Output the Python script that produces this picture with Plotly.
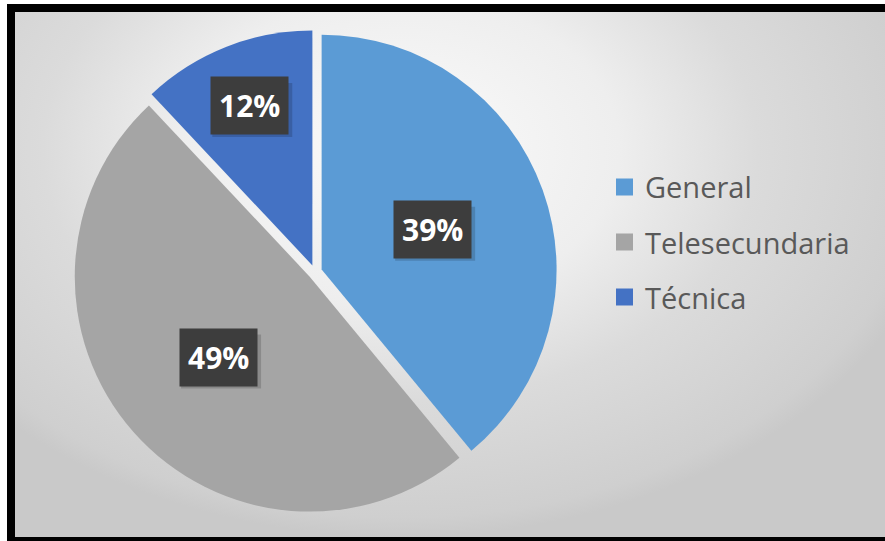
import math
import plotly.graph_objects as go

categories = ["General", "Telesecundaria", "Técnica"]
values = [39, 49, 12]
colors = ["#5B9BD5", "#A5A5A5", "#4472C4"]
label_radius = [0.53, 0.55, 0.76]

W, H = 885, 541
cx, cy, R = 315, 272, 242
pull = 0.03
r = R / (1 + pull)

# legend layout (pixels)
LEG_X0, LEG_X1, LEG_Y0, LEG_Y1 = 600, 860, 158, 327
LEG_FIRST, LEG_STEP, SQ = 187, 55, 17
SQ_X, TXT_X = 616, 643
BOX_W, BOX_H = 80, 54

fig = go.Figure()

# background gradient panel (pixel coordinates on hidden axes)
fig.add_trace(go.Scatter(
    x=[-150, 950, 950, -150, -150], y=[-237, -237, 537, 537, -237],
    mode="lines", fill="toself", line=dict(width=0),
    fillgradient=dict(type="radial",
                      colorscale=[[0, "#fbfbfb"], [0.4, "#eeeeee"], [0.65, "#dbdbdb"],
                                  [0.95, "#cfcfcf"], [1, "#c9c9c9"]]),
    hoverinfo="skip", showlegend=False))

fig.add_trace(go.Pie(
    labels=categories, values=values, sort=False, direction="clockwise", rotation=0,
    marker=dict(colors=colors, line=dict(width=0)),
    pull=[pull] * len(values), textinfo="none", hoverinfo="label+percent",
    showlegend=False,
    domain=dict(x=[(cx - R) / W, (cx + R) / W], y=[1 - (cy + R) / H, 1 - (cy - R) / H]),
))

total = sum(values)
annotations = []
shapes = []
cum = 0
for v, lr in zip(values, label_radius):
    mid = (cum + v / 2) / total * 2 * math.pi
    cum += v
    d = lr * r
    px = cx + d * math.sin(mid)
    py = cy - d * math.cos(mid)
    # soft shadow behind the label box
    shapes.append(dict(type="rect", xref="x", yref="y",
                       x0=px - BOX_W / 2 + 3, x1=px + BOX_W / 2 + 3,
                       y0=py - BOX_H / 2 + 4, y1=py + BOX_H / 2 + 4,
                       fillcolor="rgba(0,0,0,0.16)", line=dict(width=0), layer="above"))
    annotations.append(dict(
        x=px / W, y=1 - py / H, xref="paper", yref="paper", showarrow=False,
        xanchor="center", yanchor="middle",
        text=f"<b>{round(v / total * 100)}%</b>",
        font=dict(family="Open Sans", size=30, color="white"),
        bgcolor="#3d3d3d", borderpad=8,
    ))

# legend
shapes.append(dict(type="rect", xref="x", yref="y", x0=LEG_X0, x1=LEG_X1, y0=LEG_Y0, y1=LEG_Y1,
                   fillcolor="rgba(255,255,255,0.55)", line=dict(width=0), layer="below"))
for i, (cat, col) in enumerate(zip(categories, colors)):
    yc = LEG_FIRST + i * LEG_STEP
    shapes.append(dict(type="rect", xref="x", yref="y", x0=SQ_X, x1=SQ_X + SQ,
                       y0=yc - SQ / 2, y1=yc + SQ / 2, fillcolor=col, line=dict(width=0), layer="above"))
    annotations.append(dict(x=TXT_X / W, y=1 - yc / H, xref="paper", yref="paper", showarrow=False,
                            xanchor="left", yanchor="middle", text=cat,
                            font=dict(family="Open Sans", size=29, color="#595959")))

# frame
shapes += [
    dict(type="rect", xref="x", yref="y", x0=7, x1=W + 5, y0=4, y1=12, fillcolor="black", line=dict(width=0), layer="above"),
    dict(type="rect", xref="x", yref="y", x0=7, x1=15, y0=4, y1=H + 5, fillcolor="black", line=dict(width=0), layer="above"),
    dict(type="rect", xref="x", yref="y", x0=7, x1=W + 5, y0=537, y1=H + 5, fillcolor="black", line=dict(width=0), layer="above"),
    dict(type="rect", xref="x", yref="y", x0=-5, x1=W + 5, y0=-100, y1=4, fillcolor="white", line=dict(width=0), layer="above"),
    dict(type="rect", xref="x", yref="y", x0=-5, x1=7, y0=-100, y1=H + 5, fillcolor="white", line=dict(width=0), layer="above"),
]

fig.update_layout(
    width=W, height=H, margin=dict(l=0, r=0, t=0, b=0),
    paper_bgcolor="white", plot_bgcolor="rgba(0,0,0,0)",
    xaxis=dict(range=[0, W], visible=False, fixedrange=True),
    yaxis=dict(range=[H, 0], visible=False, fixedrange=True),
    showlegend=False,
    annotations=annotations,
    shapes=shapes,
)

fig.write_html("out.html")
